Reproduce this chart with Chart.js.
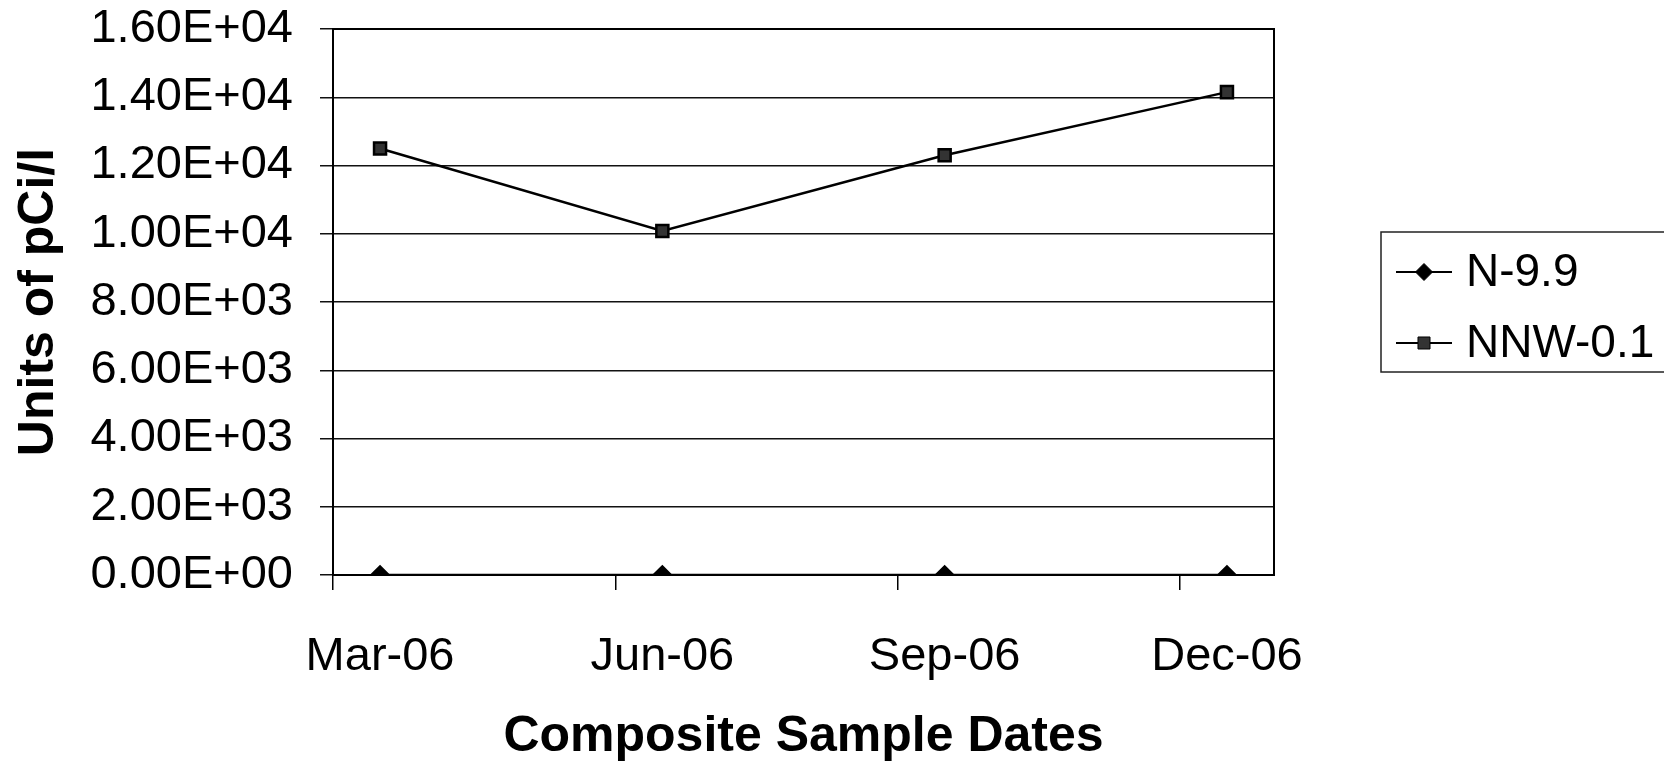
<!DOCTYPE html>
<html>
<head>
<meta charset="utf-8">
<title>Units of pCi/l</title>
<script src="https://cdn.jsdelivr.net/npm/chart.js@4.4.1/dist/chart.umd.min.js"></script>
<style>
  html, body { margin: 0; padding: 0; background: #fff; }
</style>
</head>
<body>
<canvas id="myChart" width="1664" height="763"></canvas>
<script>
// date axis: one slot per month, labels every 3rd month
const axisMonths = ["Mar-06", "Apr-06", "May-06", "Jun-06", "Jul-06",
  "Aug-06", "Sep-06", "Oct-06", "Nov-06", "Dec-06"];
const sampleDates = ["Mar-06", "Jun-06", "Sep-06", "Dec-06"];
const n99Values = [0, 0, 0, 0];
const nnw01Values = [12500, 10080, 12300, 14150];
const yMax = 16000;
const yStep = 2000;

const FONT = "'Liberation Sans', Arial, sans-serif";

// Excel style 1.60E+04
function sci(v) {
  if (v === 0) return "0.00E+00";
  const e = Math.floor(Math.log10(Math.abs(v)));
  const m = v / Math.pow(10, e);
  return m.toFixed(2) + "E" + (e < 0 ? "-" : "+") + String(Math.abs(e)).padStart(2, "0");
}

function toPoints(vals) {
  return sampleDates.map(function (d, i) { return { x: d, y: vals[i] }; });
}

function marker(ctx, style, x, y, r, fill) {
  ctx.beginPath();
  if (style === "rectRot") {
    ctx.moveTo(x - r, y); ctx.lineTo(x, y - r); ctx.lineTo(x + r, y); ctx.lineTo(x, y + r);
  } else {
    const s = Math.SQRT1_2 * r;
    ctx.rect(x - s, y - s, 2 * s, 2 * s);
  }
  ctx.closePath();
  ctx.fillStyle = fill;
  ctx.fill();
  ctx.strokeStyle = "#000";
  ctx.lineWidth = 1;
  ctx.stroke();
}

// plot frame (top and right edges)
const frame = {
  id: "frame",
  beforeDatasetsDraw(chart) {
    const a = chart.chartArea, ctx = chart.ctx;
    ctx.save();
    ctx.strokeStyle = "#000";
    ctx.lineWidth = 2;
    ctx.strokeRect(a.left, a.top, a.right - a.left, a.bottom - a.top);
    ctx.restore();
  }
};

// boxed legend on the right, line sample + marker
const boxLegend = {
  id: "boxLegend",
  afterDraw(chart) {
    const ctx = chart.ctx;
    ctx.save();
    ctx.strokeStyle = "#222";
    ctx.lineWidth = 1.5;
    ctx.strokeRect(1381, 232, 400, 140);
    chart.data.datasets.forEach(function (ds, i) {
      const y = 272 + i * 71;
      ctx.strokeStyle = "#000";
      ctx.lineWidth = 2;
      ctx.beginPath();
      ctx.moveTo(1396, y);
      ctx.lineTo(1452, y);
      ctx.stroke();
      marker(ctx, ds.pointStyle, 1424, y, ds.pointRadius, ds.pointBackgroundColor);
      ctx.fillStyle = "#000";
      ctx.font = "46px " + FONT;
      ctx.textBaseline = "middle";
      ctx.fillText(ds.label, 1466, y + 1);
    });
    ctx.restore();
  }
};

window.onload = function () {
  const ctx = document.getElementById("myChart").getContext("2d");
  new Chart(ctx, {
    type: "line",
    data: {
      labels: axisMonths,
      datasets: [
        {
          label: "N-9.9",
          data: toPoints(n99Values),
          borderColor: "#000",
          borderWidth: 2.5,
          pointStyle: "rectRot",
          pointRadius: 8.5,
          pointBackgroundColor: "#000",
          pointBorderColor: "#000",
          tension: 0,
        },
        {
          label: "NNW-0.1",
          data: toPoints(nnw01Values),
          borderColor: "#000",
          borderWidth: 2.5,
          pointStyle: "rect",
          pointRadius: 8.5,
          pointBackgroundColor: "#333",
          pointBorderColor: "#000",
          tension: 0,
        },
      ],
    },
    options: {
      responsive: false,
      animation: false,
      layout: { padding: { top: 29, right: 390, left: 0, bottom: 0 } },
      plugins: {
        legend: { display: false },
        tooltip: { enabled: false },
      },
      scales: {
        x: {
          type: "category",
          offset: true,
          grid: {
            offset: true,
            drawOnChartArea: false,
            drawTicks: true,
            tickLength: 15,
            lineWidth: 1.5,
            color: function (c) {
              return c.index !== undefined && c.index % 3 === 0 ? "#000" : "rgba(0,0,0,0)";
            },
          },
          border: { display: true, color: "#000", width: 2 },
          ticks: {
            autoSkip: false,
            maxRotation: 0,
            padding: 39,
            color: "#000",
            font: { family: FONT, size: 47 },
            callback: function (v, i) { return i % 3 === 0 ? axisMonths[i] : ""; },
          },
          title: {
            display: true,
            text: "Composite Sample Dates",
            color: "#000",
            font: { family: FONT, size: 50, weight: "bold", lineHeight: 1 },
            padding: { top: 0, bottom: 1 },
          },
          afterFit: function (s) { s.height = 188; },
        },
        y: {
          min: 0,
          max: yMax,
          ticks: {
            stepSize: yStep,
            padding: 27,
            color: "#000",
            font: { family: FONT, size: 47 },
            callback: function (v) { return sci(v); },
          },
          grid: { color: "#111", lineWidth: 1.5, tickLength: 13, drawTicks: true },
          border: { display: true, color: "#000", width: 2 },
          title: {
            display: true,
            text: "Units of pCi/l",
            color: "#000",
            font: { family: FONT, size: 50, weight: "bold" },
            padding: { top: 9, bottom: 0 },
          },
          afterFit: function (s) {
            s.width = 333;
            s.paddingTop = 0;
            s.paddingBottom = 0;
          },
        },
      },
    },
    plugins: [frame, boxLegend],
  });
};
</script>
</body>
</html>
